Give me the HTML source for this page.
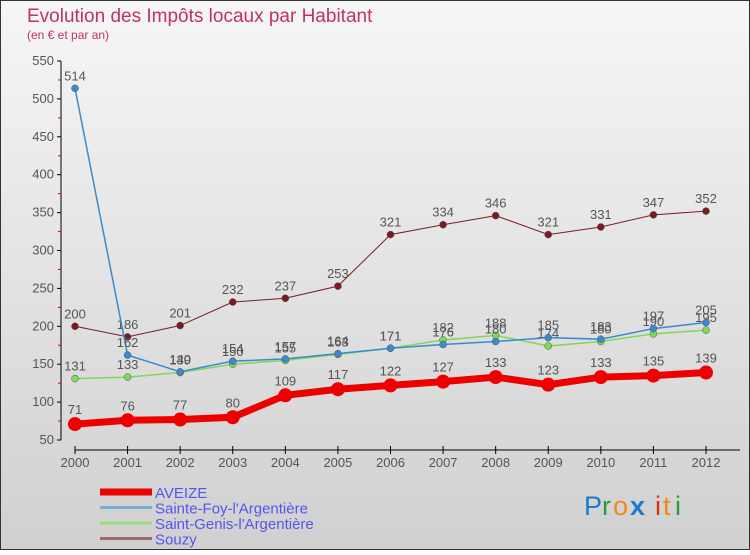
<!DOCTYPE html>
<html><head><meta charset="utf-8"><style>
body{margin:0;width:750px;height:550px;overflow:hidden;font-family:"Liberation Sans",sans-serif}
svg text{font-family:"Liberation Sans",sans-serif}
</style></head><body>
<svg id="c" width="750" height="550">
<defs><linearGradient id="bg" x1="0" y1="0" x2="0" y2="1"><stop offset="0" stop-color="#f6f6f6"/><stop offset="1" stop-color="#d0d0d0"/></linearGradient></defs>
<rect x="0.5" y="0.5" width="749" height="549" fill="url(#bg)" stroke="#333"/>
<text x="27" y="22" font-size="19" fill="#c0306a">Evolution des Impôts locaux par Habitant</text>
<text x="27" y="39" font-size="12" fill="#c0306a">(en € et par an)</text>
<g id="axes"></g><g id="series"></g><g id="legend"></g>
<g font-size="27">
<text x="584" y="515" fill="#1a7ad0">P</text><text x="602" y="515" fill="#2a9a3a">r</text><text x="613" y="515" fill="#f08a10">o</text><text x="630" y="515" fill="#1a7ad0" font-weight="bold">x</text><text x="655" y="515" fill="#e03010">i</text><text x="663" y="515" fill="#f08a10">t</text><text x="675" y="515" fill="#2a9a3a">i</text></g>
</svg>
<script>
const years=["2000","2001","2002","2003","2004","2005","2006","2007","2008","2009","2010","2011","2012"];
const yTicks=[50,100,150,200,250,300,350,400,450,500,550];
const aveize=[71,76,77,80,109,117,122,127,133,123,133,135,139];
const sainteFoy=[514,162,140,154,157,164,171,176,180,185,183,197,205];
const saintGenis=[131,133,139,150,155,163,171,182,188,174,180,190,195];
const souzy=[200,186,201,232,237,253,321,334,346,321,331,347,352];
const NS="http://www.w3.org/2000/svg";
const X=i=>75+i*(706-75)/12;
const Y=v=>440-(v-50)*(440-61)/500;
function mk(t,a,p){const e=document.createElementNS(NS,t);for(const k in a)e.setAttribute(k,a[k]);p.appendChild(e);return e;}
const ax=document.getElementById('axes');
const yl=mk('line',{x1:61,y1:61,x2:61,y2:440,stroke:'#000'},ax);

yTicks.forEach((v,i)=>{mk('line',{x1:57,y1:Y(v),x2:61,y2:Y(v),stroke:'#000'},ax);
 if(i<yTicks.length-1)mk('line',{x1:58,y1:Y(v+25),x2:61,y2:Y(v+25),stroke:'#d00'},ax);
 const t=mk('text',{x:54,y:Y(v)+4,'text-anchor':'end','font-size':13,fill:'#555'},ax);t.textContent=v;
 });
const xl=mk('line',{x1:75,y1:450,x2:740,y2:450,stroke:'#000'},ax);

years.forEach((y,i)=>{mk('line',{x1:X(i),y1:446,x2:X(i),y2:454,stroke:'#000'},ax);
 const t=mk('text',{x:X(i),y:467,'text-anchor':'middle','font-size':13,fill:'#555'},ax);t.textContent=y;
 });
const sg=document.getElementById('series');
const series=[
 {n:'Souzy',d:souzy,c:'#7a1a22',w:1,r:3.5,lc:'#9a6a6a'},
 {n:'Saint-Genis-l\'Argentière',d:saintGenis,c:'#7ed957',w:1.5,r:3.5,lc:'#99dd77'},
 {n:'Sainte-Foy-l\'Argentière',d:sainteFoy,c:'#3a8ad0',w:1.5,r:3.5,lc:'#7aaed0'},
 {n:'AVEIZE',d:aveize,c:'#ee0000',w:7,r:7,lc:'#ee0000'}];
series.forEach(s=>{const g=mk('g',{},sg);
 
 mk('polyline',{points:s.d.map((v,i)=>X(i)+','+Y(v)).join(' '),fill:'none',stroke:s.c,'stroke-width':s.w},g);
 s.d.forEach((v,i)=>{const p=mk('circle',{cx:X(i),cy:Y(v),r:s.r,fill:s.c,stroke:s.w>2?'none':'#555','stroke-width':0.5},g);
  
  const t=mk('text',{x:X(i),y:Y(v)-(s.w>2?10:8),'text-anchor':'middle','font-size':13,fill:'#555'},g);t.textContent=v;
  });});
const lg=document.getElementById('legend');
series.slice().reverse().forEach((s,i)=>{const y=492+i*15.5;const g=mk('g',{},lg);
 
 mk('line',{x1:100,y1:y,x2:152,y2:y,stroke:s.lc,'stroke-width':s.w>2?7:3},g);
 const t=mk('text',{x:155,y:y+6,'font-size':15,fill:'#5555ee'},g);t.textContent=s.n;});
</script></body></html>
